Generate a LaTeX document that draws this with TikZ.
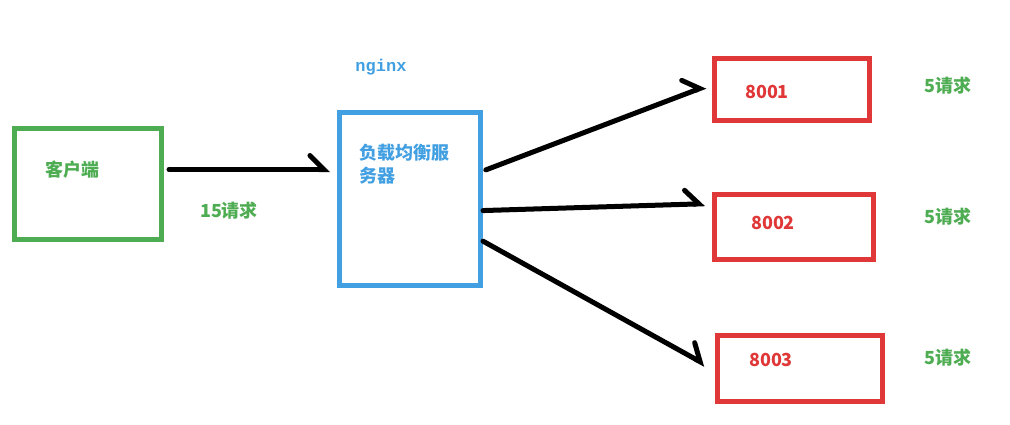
\documentclass[tikz,border=0pt]{standalone}
\usepackage{fontspec}
\usepackage{xcolor}
\usepackage{tikz}
\usetikzlibrary{arrows.meta,positioning}
\newfontfamily\cjk{Noto Sans CJK SC}
\newfontfamily\nmono{Liberation Mono}
\definecolor{boxgreen}{RGB}{78,172,82}
\definecolor{boxblue}{RGB}{66,160,226}
\definecolor{boxred}{RGB}{224,56,56}

\begin{document}
\begin{tikzpicture}[x=1pt, y=-1pt,
  box/.style={draw, line width=5pt, inner sep=0pt},
  txt/.style={font=\cjk\bfseries\fontsize{18}{23}\selectfont, inner sep=0pt},
  req/.style={line width=5pt, line cap=round, black,
    -{Straight Barb[left, length=14pt, width=28pt, line cap=round]}}]
\useasboundingbox (0,0) rectangle (1010,424);
% boxes
\node[box, draw=boxgreen, minimum width=147pt, minimum height=111pt] (client) at (88,184) {};
\node[box, draw=boxblue, minimum width=141pt, minimum height=173pt] (lb) at (410,199) {};
\node[box, draw=boxred, minimum width=155pt, minimum height=62pt] (s1) at (792,89.5) {};
\node[box, draw=boxred, minimum width=159pt, minimum height=65pt] (s2) at (794,227) {};
\node[box, draw=boxred, minimum width=165pt, minimum height=66pt] (s3) at (800,368.5) {};
% texts
\node[txt, text=boxgreen, anchor=west] (clienttxt) at (45,170) {客户端};
\node[txt, text=boxblue, anchor=north west, align=left] (lbtxt) at (359,144) {负载均衡服\\务器};
\node[font=\nmono\bfseries\fontsize{17}{19}\selectfont, text=boxblue, inner sep=0pt] (nginx) at (381,67) {nginx};
\node[txt, text=boxred] (t1) at (767,92) {8001};
\node[txt, text=boxred] (t2) at (773,223) {8002};
\node[txt, text=boxred] (t3) at (771,360) {8003};
\node[txt, text=boxgreen] (n0) at (229,211) {15请求};
\node[txt, text=boxgreen] (n1) at (948,86) {5请求};
\node[txt, text=boxgreen] (n2) at (948,217) {5请求};
\node[txt, text=boxgreen] (n3) at (948,358) {5请求};
% arrows
\draw[req, shorten <=5pt, shorten >=7pt] (lb.158.3 -| client.east) -- (lb.158.3);
\draw[req, shorten <=3pt, shorten >=7pt] (lb.21.4) -- (s1.176.1);
\draw[req, shorten >=7pt] (lb.-9.2) -- (s2.164.3);
\draw[req, shorten >=11pt] (lb.-30.2) -- (s3.181);
\end{tikzpicture}
\end{document}
